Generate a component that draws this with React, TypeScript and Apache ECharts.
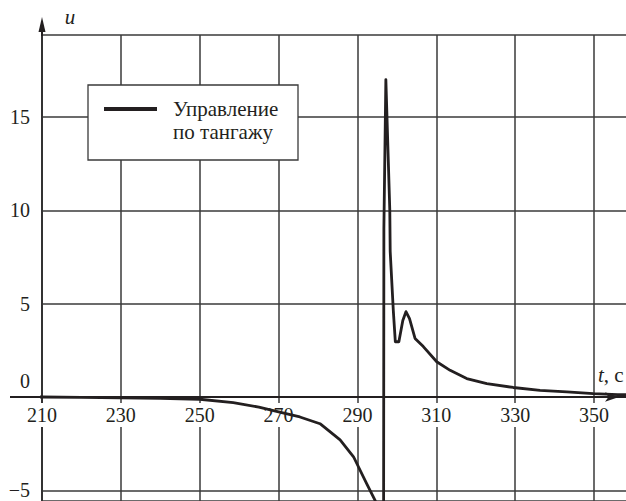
import { useEffect, useRef } from 'react';
import * as echarts from 'echarts';

const seriesName = 'Управление\nпо тангажу';
const tValues = [
  204, 210, 220, 230, 240, 250, 258.5, 265, 270, 275.4, 280.5, 285.6, 289, 292.3, 294.5,
  295.6, 296.6, 296.7, 297.2, 298.2, 298.3, 299.1, 299.6, 300.5, 301.5, 302.3, 303.2, 304.6,
  306.7, 310.1, 313.5, 317.7, 322.8, 329.5, 336.3, 343.1, 349.8, 356, 358.1,
];
const uValues = [
  0.0, 0.0, -0.02, -0.04, -0.07, -0.12, -0.3, -0.54, -0.8, -1.07, -1.43, -2.3, -3.2, -4.63, -5.55,
  -8, -12, 9, 17, 10, 7.8, 4.6, 2.96, 2.96, 4.1, 4.57, 4.2, 3.14,
  2.7, 1.89, 1.43, 0.99, 0.72, 0.51, 0.36, 0.27, 0.18, 0.13, 0.12,
];
const xMin = 210;
const xMax = 358.1;
const xStep = 20;
const yMin = -5.57;
const yMax = 19.39;
const yStep = 5;
const yAxisName = 'u';
const xAxisName = 't';
const xAxisUnit = ', с';

export default function App() {
  const ref = useRef<HTMLDivElement>(null);
  useEffect(() => {
    const chart = echarts.init(ref.current!, null, { renderer: 'svg' });
    const font = 'serif';
    const ink = '#231f20';
    const gridColor = '#3a3a3a';
    chart.setOption({
      animation: false,
      textStyle: { fontFamily: font, color: ink },
      grid: { left: 42, right: 0, top: 35, bottom: 0, containLabel: false, outerBoundsMode: 'none' },
      legend: {
        data: [{ name: seriesName }],
        formatter: (name: string) => '\n' + name,
        left: 104,
        top: 74.5,
        padding: 0,
        icon: 'rect',
        itemWidth: 53,
        itemHeight: 4,
        selectedMode: false,
        z: 10,
        textStyle: {
          fontFamily: font,
          fontSize: 21,
          lineHeight: 23,
          color: ink,
          padding: [0, 0, 0, 11],
        },
      },
      xAxis: {
        type: 'value',
        min: xMin,
        max: xMax,
        interval: xStep,
        z: 3,
        offset: -104,
        axisLine: {
          onZero: false,
          lineStyle: { color: ink, width: 2 },
          symbol: ['none', 'arrow'],
          symbolSize: [7, 14],
          symbolOffset: [0, -7],
        },
        axisTick: { show: false },
        splitLine: { show: true, showMaxLine: false, lineStyle: { color: gridColor, width: 1.5 } },
        axisLabel: {
          formatter: (v: number) => (Math.abs((v - xMin) % xStep) < 1e-9 ? '{a|' + v + '}' : ''),
          showMaxLabel: false,
          color: ink,
          fontFamily: font,
          fontSize: 20,
          backgroundColor: '#fff',
          padding: [2, 4],
          margin: 6,
          rich: { a: { fontFamily: font, fontSize: 20, color: ink } },
        },
      },
      yAxis: {
        type: 'value',
        min: yMin,
        max: yMax,
        splitNumber: 5,
        axisLine: { show: true, onZero: false, lineStyle: { color: ink, width: 2 } },
        axisTick: { show: false },
        splitLine: { show: true, lineStyle: { color: gridColor, width: 1.5 } },
        axisLabel: {
          formatter: (v: number) => {
            if (Math.abs(v % yStep) > 1e-9) return '';
            if (v === 0) return '{z|0}';
            return '{a|' + (v < 0 ? '−' + String(-v) : String(v)) + '}';
          },
          color: ink,
          fontFamily: font,
          fontSize: 20,
          margin: 12,
          rich: {
            a: { fontFamily: font, fontSize: 20, color: ink },
            z: { fontFamily: font, fontSize: 20, color: ink, padding: [0, 0, 32, 0] },
          },
        },
      },
      series: [
        {
          name: seriesName,
          type: 'line',
          data: tValues.map((t, i) => [t, uValues[i]]),
          symbol: 'none',
          showSymbol: false,
          clip: false,
          lineStyle: { color: ink, width: 2.8, join: 'round' },
          itemStyle: { color: ink },
        },
      ],
      graphic: [
        {
          type: 'rect',
          z: 5,
          shape: { x: 88, y: 85, width: 210, height: 75 },
          style: { fill: '#fff', stroke: gridColor, lineWidth: 1.3 },
        },
        {
          type: 'line',
          z: 5,
          shape: { x1: 10, y1: 397, x2: 42, y2: 397 },
          style: { stroke: ink, lineWidth: 2 },
        },
        {
          type: 'line',
          z: 5,
          shape: { x1: 42, y1: 36, x2: 42, y2: 28 },
          style: { stroke: ink, lineWidth: 2 },
        },
        {
          type: 'polygon',
          z: 5,
          shape: { points: [[42, 17], [38.5, 32], [45.5, 32]] },
          style: { fill: ink },
        },
        {
          type: 'text',
          z: 5,
          x: 70,
          y: 17,
          style: {
            text: yAxisName,
            fontFamily: font,
            fontSize: 21,
            fontStyle: 'italic',
            fill: ink,
            align: 'center',
            verticalAlign: 'middle',
          },
        },
        {
          type: 'text',
          z: 5,
          x: 598,
          y: 375,
          style: {
            text: '{i|' + xAxisName + '}' + xAxisUnit,
            fontFamily: font,
            fontSize: 21,
            fill: ink,
            align: 'left',
            verticalAlign: 'middle',
            rich: { i: { fontFamily: font, fontSize: 21, fontStyle: 'italic', fill: ink } },
          },
        },
      ],
    });
    return () => chart.dispose();
  }, []);
  return (
    <div
      ref={ref}
      style={{ position: 'fixed', left: 0, top: 0, width: 626, height: 501, background: '#fff' }}
    />
  );
}
